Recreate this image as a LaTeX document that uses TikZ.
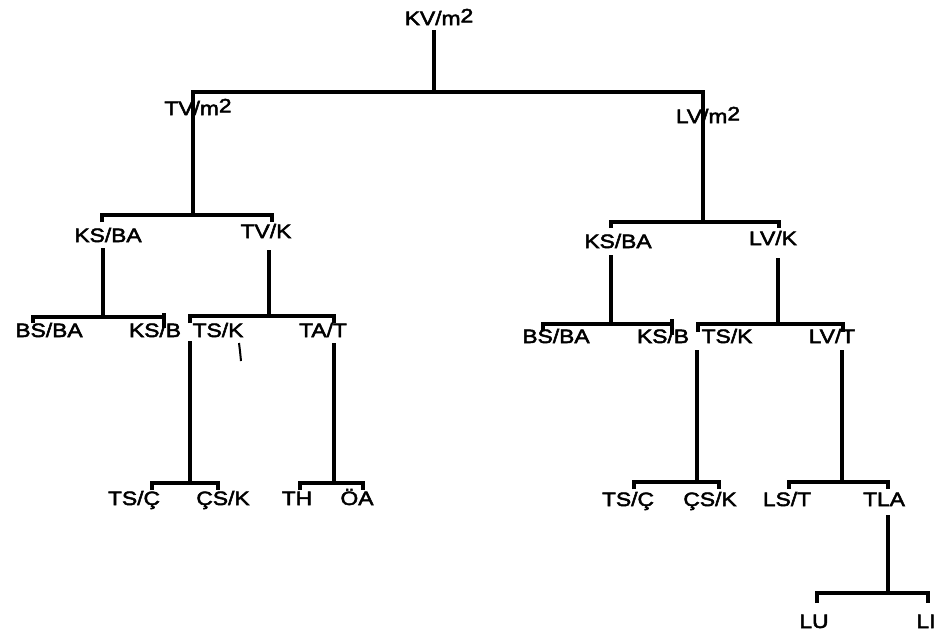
\documentclass[tikz,border=0pt]{standalone}
\usepackage{fontspec}
\setmainfont[FakeStretch=1.18,FakeBold=2.6]{Liberation Sans}
\newcommand\msq{m\raisebox{2pt}{2}}
\begin{document}
\begin{tikzpicture}[x=0.75pt,y=-0.75pt,
  lbl/.style={anchor=base,inner sep=0pt,font=\fontsize{14.5}{16}\selectfont},
  edge/.style={line width=2.7pt,line cap=butt,line join=miter}]
\useasboundingbox (0,0) rectangle (936,636);

% ---------- labels ----------
\node[lbl] (kv)  at (439,25)  {KV/\msq};
\node[lbl] (tv)  at (198,115) {TV/\msq};
\node[lbl] (lv)  at (708,123) {LV/\msq};

\node[lbl] (ksbaL) at (108,242) {KS/BA};
\node[lbl] (tvk)   at (266,238) {TV/K};
\node[lbl] (ksbaR) at (618,248) {KS/BA};
\node[lbl] (lvk)   at (773,245) {LV/K};

\node[lbl] (bsbaL) at (49,337)  {BS/BA};
\node[lbl] (ksbL)  at (155,337) {KS/B};
\node[lbl] (tskL)  at (218,337) {TS/K};
\node[lbl] (tat)   at (323,337) {TA/T};
\node[lbl] (bsbaR) at (556,343) {BS/BA};
\node[lbl] (ksbR)  at (663,343) {KS/B};
\node[lbl] (tskR)  at (727,343) {TS/K};
\node[lbl] (lvt)   at (832,343) {LV/T};

\node[lbl] (tscL)  at (134,505) {TS/Ç};
\node[lbl] (csKL)  at (223,505) {ÇS/K};
\node[lbl] (th)    at (297,505) {TH};
\node[lbl] (oa)    at (357,505) {ÖA};
\node[lbl] (tscR)  at (628,506) {TS/Ç};
\node[lbl] (csKR)  at (710,506) {ÇS/K};
\node[lbl] (lst)   at (787,506) {LS/T};
\node[lbl] (tla)   at (884,506) {TLA};
\node[lbl] (lu)    at (814,628) {LU};
\node[lbl] (li)    at (926,628) {LI};

% ---------- junction points ----------
\coordinate (kvS) at (434,30);
\coordinate (tvT) at (193,92);  \coordinate (lvT) at (703,92);
\coordinate (tvS) at (193,215); \coordinate (lvS) at (703,222);

\coordinate (ksbaLT) at (102,222); \coordinate (tvkT) at (272,222);
\coordinate (ksbaLS) at (103,248); \coordinate (tvkS) at (269,250);
\coordinate (ksbaRT) at (611,228); \coordinate (lvkT) at (779,228);
\coordinate (ksbaRS) at (611,255); \coordinate (lvkS) at (778,258);

\coordinate (bsbaLT) at (33,323);  \coordinate (ksbLT) at (164,313); \coordinate (ksbLB) at (164,328);
\coordinate (tskLT)  at (190,323); \coordinate (tatT)  at (334,323);
\coordinate (tskLS)  at (190,341); \coordinate (tatS)  at (334,343);
\coordinate (bsbaRT) at (543,331); \coordinate (ksbRT) at (672,319); \coordinate (ksbRB) at (672,335);
\coordinate (tskRT)  at (698,332); \coordinate (lvtT)  at (843,332);
\coordinate (tskRS)  at (697,350); \coordinate (lvtS)  at (842,350);

\coordinate (tscLT) at (152,490); \coordinate (csKLT) at (218,490);
\coordinate (thT)   at (300,490); \coordinate (oaT)   at (363,490);
\coordinate (tscRT) at (634,489); \coordinate (csKRT) at (719,489);
\coordinate (lstT)  at (789,489); \coordinate (tlaT)  at (888,489);
\coordinate (tlaS)  at (888,515);
\coordinate (luT)   at (817,603); \coordinate (liT)   at (928,603);

% ---------- connectors ----------
\draw[edge] (kvS) -- (kvS |- tvT);
\draw[edge] (tvS) -- (tvT) -- (lvT) -- (lvS);

\draw[edge] (ksbaLT) -- (ksbaLT |- 0,215) -- (tvkT |- 0,215) -- (tvkT);
\draw[edge] (ksbaRT) -- (ksbaRT |- 0,222) -- (lvkT |- 0,222) -- (lvkT);

\draw[edge] (ksbaLS) -- (ksbaLS |- 0,317);
\draw[edge] (bsbaLT) -- (bsbaLT |- 0,317) -- (ksbLB |- 0,317);
\draw[edge] (ksbLT) -- (ksbLB);
\draw[edge] (tvkS) -- (tvkS |- 0,316);
\draw[edge] (tskLT) -- (tskLT |- 0,316) -- (tatT |- 0,316) -- (tatT);

\draw[edge] (ksbaRS) -- (ksbaRS |- 0,324);
\draw[edge] (bsbaRT) -- (bsbaRT |- 0,324) -- (ksbRB |- 0,324);
\draw[edge] (ksbRT) -- (ksbRB);
\draw[edge] (lvkS) -- (lvkS |- 0,324);
\draw[edge] (tskRT) -- (tskRT |- 0,324) -- (lvtT |- 0,324) -- (lvtT);

\draw[edge] (tskLS) -- (tskLS |- 0,483);
\draw[edge] (tscLT) -- (tscLT |- 0,483) -- (csKLT |- 0,483) -- (csKLT);
\draw[edge] (tatS) -- (tatS |- 0,483);
\draw[edge] (thT) -- (thT |- 0,483) -- (oaT |- 0,483) -- (oaT);

\draw[edge] (tskRS) -- (tskRS |- 0,482);
\draw[edge] (tscRT) -- (tscRT |- 0,482) -- (csKRT |- 0,482) -- (csKRT);
\draw[edge] (lvtS) -- (lvtS |- 0,482);
\draw[edge] (lstT) -- (lstT |- 0,482) -- (tlaT |- 0,482) -- (tlaT);

\draw[edge] (tlaS) -- (tlaS |- 0,593);
\draw[edge] (luT) -- (luT |- 0,593) -- (liT |- 0,593) -- (liT);

% small stroke below the left TS/K label
\coordinate (markA) at (239,343); \coordinate (markB) at (241,361);
\draw[line width=1.5pt] (markA) -- (240,351) -- (markB);
\end{tikzpicture}
\end{document}
